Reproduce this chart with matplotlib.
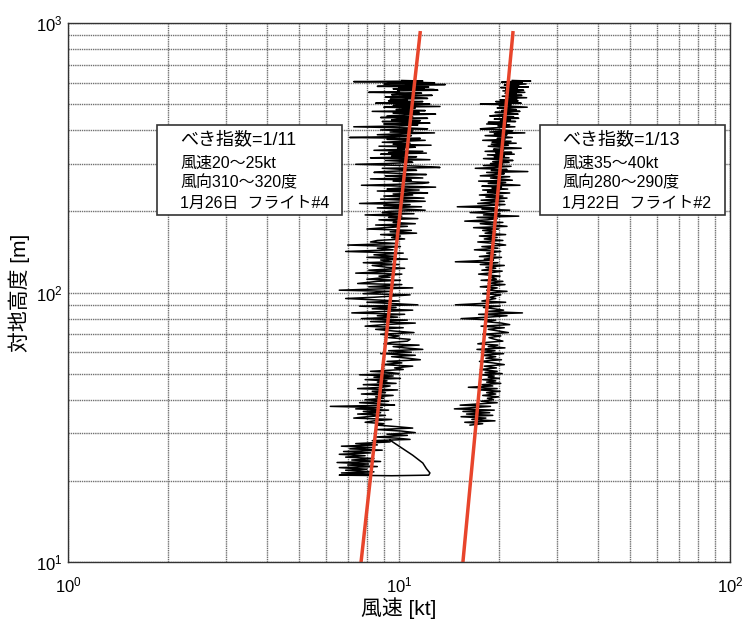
import matplotlib
matplotlib.use('Agg')
import matplotlib.pyplot as plt
from matplotlib.patches import Rectangle

plt.rcParams['font.family'] = ['Liberation Sans', 'Noto Sans CJK JP']

# sampled heights during descent [m], shared by both flights down to ~32 m
height = [
    612, 609, 606, 603, 600, 597, 594, 591, 588, 585, 582, 579, 576, 573, 570,
    567, 563, 560, 556, 553, 549, 546, 542, 539, 535, 532, 528, 525, 521, 518,
    514, 511, 507, 504, 500, 497, 494, 490, 487, 484, 480, 477, 473, 470, 466,
    463, 459, 456, 452, 449, 446, 443, 440, 437, 434, 431, 428, 425,
    422, 419, 415, 412, 408, 405, 401, 398, 394, 391, 388, 385, 382, 379, 376,
    373, 370, 367, 364, 361, 358, 355, 352, 349, 346, 343, 340, 337, 334, 331,
    329, 326, 324, 321, 319, 316, 314, 311, 309, 306,
    304, 301, 299, 296, 294, 291, 289, 286, 284, 281, 279, 276, 274, 271, 269,
    266, 264, 261, 259, 256,
    254, 252, 250, 248, 246, 244, 242, 240, 238, 236, 234, 232, 230, 228, 226,
    224, 222, 220, 218, 216,
    214, 212, 210, 208, 206, 204, 202, 200, 198, 196, 194, 192, 190, 188, 186,
    184, 182, 180, 178, 176, 174, 172, 170, 168, 166, 164, 162, 160,
    158, 156, 154, 152, 150, 148, 146, 144, 142, 140, 138, 136, 135, 133, 132,
    130, 129, 127, 126, 124, 123, 121, 120, 118, 117, 115, 114, 112, 111, 110,
    108, 107, 105, 104, 102, 101, 99, 98, 96, 95, 93, 92, 90, 89, 88, 87, 86,
    85, 84, 83, 82, 81, 80, 79, 78, 77, 76, 75, 74, 73, 72, 71, 70, 69, 68, 67,
    66, 65.3, 64.5, 63.8, 63, 62.3, 61.5, 60.8, 60, 59.3, 58.5, 57.8, 57, 56.3,
    55.5, 54.8, 54, 53.3, 52.5, 51.8,
    51, 50.5, 50, 49.5, 49, 48.5, 48, 47.5, 47, 46.5, 46, 45.5, 45, 44.5, 44,
    43.5, 43, 42.5, 42, 41.5, 41, 40.5, 40, 39.5,
    39, 38.6, 38.2, 37.8, 37.4, 37, 36.6, 36.2, 35.8, 35.4, 35, 34.6, 34.2,
    33.8, 33.4, 33, 32.6, 32.2,
]

# flight #4 wind speed [kt]
left_speed = [
    10.2, 11.8, 7.3, 10.9, 12.8, 9.4, 9.0, 13.8, 11.2, 10.4, 8.6, 12.3, 10.0, 11.9, 9.6,
    12.7, 13.1, 9.9, 10.0, 8.1, 11.7, 10.3, 9.5, 12.6, 10.8, 9.1, 11.4, 12.2, 9.4, 10.6,
    9.3, 11.8, 10.2, 8.5, 12.4, 10.1, 9.6, 13.3, 9.0, 11.2, 10.5, 9.8, 12.0, 8.3, 11.5,
    9.6, 12.9, 10.4, 9.2, 11.0, 8.8, 12.2, 10.0, 9.5, 11.6, 8.9, 10.7, 12.4,
    9.0, 11.4, 10.2, 7.3, 10.6, 12.2, 8.8, 11.0, 9.4, 12.8, 10.1, 8.6, 10.9, 9.7, 7.1,
    11.6, 9.2, 12.0, 10.3, 8.9, 10.8, 9.6, 12.5, 8.7, 11.2, 9.9, 10.4, 8.4, 11.8, 9.3,
    12.1, 8.8, 10.6, 9.5, 11.3, 8.2, 10.0, 12.4, 9.1, 10.7,
    11.0, 9.2, 7.4, 10.2, 11.6, 13.3, 8.9, 10.4, 11.3, 9.0, 8.4, 10.6, 12.1, 9.1, 10.0,
    11.8, 8.2, 10.9, 9.6, 12.3,
    11.8, 9.8, 7.7, 10.5, 12.9, 10.0, 9.2, 11.5, 8.6, 10.8, 12.2, 9.6, 11.0, 9.0, 10.4,
    11.9, 8.8, 10.2, 12.0, 9.4,
    7.6, 10.8, 9.0, 11.7, 8.6, 10.4, 12.0, 9.3, 8.9, 11.1, 7.9, 10.2, 9.3, 11.4, 8.7,
    10.0, 9.6, 11.2, 8.5, 10.6, 9.1, 8.0, 10.9, 9.4, 11.3, 8.8, 10.1, 9.5,
    10.4, 8.6, 8.2, 9.9, 7.0, 10.1, 8.6, 9.6, 6.9, 10.3, 8.4, 9.8, 8.0, 10.6, 8.8,
    9.5, 7.8, 10.0, 8.3, 9.2, 10.4, 8.1, 9.7, 7.4, 10.2, 8.7, 9.4, 8.0, 10.1, 8.6,
    7.5, 10.2, 8.1, 11.0, 6.6, 9.4, 7.8, 10.8, 8.4, 6.9, 10.0, 8.0, 11.4, 7.6, 9.8, 8.3, 11.0,
    8.9, 7.2, 10.4, 8.6, 9.9, 7.7, 10.6, 8.2, 11.2, 9.0, 7.9, 10.3, 8.5, 9.6, 11.1, 8.8, 10.0, 9.3, 10.8,
    10.6, 9.5, 9.0, 11.5, 9.6, 10.4, 11.8, 9.3, 10.9, 8.8, 11.2, 9.5, 10.7, 11.6,
    9.2, 10.2, 8.9, 11.0, 9.7, 10.3,
    8.2, 9.4, 10.0, 7.6, 9.6, 8.4, 10.1, 7.9, 9.2, 8.6, 9.8, 7.8, 9.4, 8.9, 7.5,
    9.9, 8.3, 9.1, 7.7, 9.6, 8.5, 9.0, 7.9, 9.3,
    7.6, 8.8, 9.7, 6.2, 8.9, 7.4, 9.3, 7.8, 8.8, 7.5, 9.1, 8.0, 7.3,
    9.5, 8.4, 7.9, 9.0, 8.6,
]

# flight #4 continues below 32 m, ending with a loop near 21 m
left_tail_height = [
    31.8, 31.4, 31, 30.6, 30.2, 29.8, 29.5, 29.1, 28.8, 28.5, 28.2, 27.9,
    27.5, 27.2, 26.9, 26.6, 26.3, 26, 25.7, 25.4, 25.1, 24.8, 24.5, 24.2,
    23.9, 23.6, 23.4, 23.1, 22.9, 22.6, 22.4, 22.1, 21.9, 21.6, 21.4, 21.2,
    21.0, 20.9, 21.0, 21.4, 22.2, 23.3, 24.9, 26.7, 28.3,
]
left_tail_speed = [
    9.8, 11.0, 8.6, 10.2, 11.2, 9.2, 10.6, 8.5, 9.9, 10.8, 8.3, 9.4,
    7.4, 8.6, 6.7, 8.3, 7.1, 8.9, 6.8, 8.2, 6.6, 7.9, 6.9, 8.4,
    7.2, 8.8, 6.5, 8.1, 7.0, 8.6, 6.6, 8.0, 6.9, 8.4, 6.7, 8.2,
    6.6, 9.5, 12.3, 12.4, 12.1, 11.8, 11.0, 10.1, 9.4,
]

# flight #2 wind speed [kt]
right_speed = [
    22.0, 25.0, 21.4, 20.4, 23.6, 21.2, 24.2, 22.3, 20.8, 23.0, 21.6, 24.6, 20.3, 22.8, 21.7,
    21.0, 23.8, 20.6, 22.4, 24.0, 20.9, 22.6, 21.3, 23.5, 20.5, 22.1, 24.3, 21.0, 22.7, 20.2,
    22.9, 19.6, 21.5, 23.4, 17.6, 21.8, 20.1, 22.6, 24.4, 19.8, 21.2, 22.6, 20.4, 23.2, 19.5,
    21.4, 22.9, 20.0, 18.8, 22.2, 20.6, 23.0, 19.4, 21.7, 20.3, 22.5, 18.6, 21.1,
    18.4, 21.6, 19.9, 22.4, 19.2, 17.6, 20.6, 22.0, 18.8, 24.0, 19.4, 21.2, 18.2, 20.5, 22.0,
    19.8, 20.9, 17.9, 21.8, 19.1, 22.6, 19.0, 21.4, 18.6, 20.3, 23.4, 19.3, 20.7, 18.2, 21.9,
    19.6, 22.3, 18.5, 20.8, 19.4, 21.5, 18.0, 20.2, 22.1, 19.2,
    21.5, 18.9, 20.6, 18.0, 21.8, 19.4, 17.0, 21.2, 19.0, 24.5, 18.4, 20.8, 19.6, 17.6, 21.6,
    18.9, 20.2, 22.0, 17.4, 21.0,
    18.6, 20.7, 23.2, 17.8, 20.4, 19.1, 21.3, 17.9, 20.0, 18.5, 21.6, 19.2, 17.5, 20.6, 18.3,
    21.2, 19.5, 17.7, 20.8, 18.8,
    17.3, 20.9, 18.6, 15.0, 19.6, 17.8, 21.6, 18.4, 16.4, 20.2, 18.0, 23.0, 17.2, 19.8, 18.5,
    15.8, 20.6, 17.6, 19.4, 21.2, 16.8, 20.0, 17.9, 19.6, 18.2, 21.0, 17.5, 19.8,
    18.1, 20.6, 17.3, 19.5, 21.0, 17.8, 19.9, 16.9, 20.3, 18.4, 19.6, 17.5, 20.4, 18.1, 19.3,
    14.8, 19.9, 17.6, 20.8, 18.3, 19.6, 17.8, 20.5, 18.6, 17.4, 20.2, 18.9, 19.7, 17.7, 20.6,
    18.6, 20.9, 17.6, 19.8, 18.4, 21.2, 17.9, 20.3, 18.8, 19.6, 17.8, 21.0, 14.8, 20.2, 18.0, 19.4, 20.7,
    18.3, 23.6, 17.4, 21.2, 18.6, 15.4, 19.6, 18.2, 20.4, 21.6, 17.7, 20.8, 18.6, 19.9, 21.4, 17.9, 20.3, 18.7, 19.5,
    20.6, 18.4, 17.3, 19.9, 18.6, 20.9, 17.2, 19.5, 18.0, 20.7, 17.8, 19.6, 18.3, 20.4,
    17.5, 19.2, 20.8, 18.1, 19.7, 17.6,
    19.8, 18.2, 20.5, 17.7, 19.4, 18.6, 20.1, 17.9, 19.6, 18.4, 20.3, 17.8, 19.2, 16.2, 19.8,
    17.6, 20.2, 18.4, 19.6, 17.9, 20.0, 18.5, 19.3, 17.7,
    19.8, 17.4, 15.3, 18.9, 16.8, 14.7, 19.4, 15.6, 18.8, 16.0, 19.2, 15.4, 18.3,
    16.6, 19.5, 15.8, 17.9, 16.4,
]

# power-law fits: speed at 10 m [kt] and exponent
fit_speed_10m = [7.68, 15.6]
fit_exponent = [1 / 11, 1 / 13]
fit_height = [10, 920]

box_lines = [
    ['べき指数=1/11', '風速20～25kt', '風向310～320度', '1月26日  フライト#4'],
    ['べき指数=1/13', '風速35～40kt', '風向280～290度', '1月22日  フライト#2'],
]

W, H = 745, 625
fig = plt.figure(figsize=(W / 100, H / 100), dpi=100)
ax = fig.add_axes([68 / W, 1 - 562 / H, 662 / W, 539 / H])
ax.set_xscale('log')
ax.set_yscale('log')
ax.set_xlim(1, 100)
ax.set_ylim(10, 1000)

ax.grid(True, which='both', color='#707070', linestyle=(0, (1, 0.6)), linewidth=1.0)
ax.set_axisbelow(True)

ax.plot(left_speed + left_tail_speed, height + left_tail_height, color='black', lw=1.1)
ax.plot(right_speed, height, color='black', lw=1.1)

for u10, p in zip(fit_speed_10m, fit_exponent):
    speeds = [u10 * (z / 10) ** p for z in fit_height]
    ax.plot(speeds, fit_height, color='#e8452c', lw=2.5)

ax.tick_params(which='both', length=0, labelsize=12)
ax.tick_params(axis='x', pad=10)
ax.tick_params(axis='y', pad=4)
for s in ax.spines.values():
    s.set_color('#333333')
    s.set_linewidth(1.0)

ax.set_xlabel('風速 [kt]', fontsize=15)
ax.set_ylabel('対地高度 [m]', fontsize=15)
ax.xaxis.set_label_coords(0.5, -0.065)
ax.yaxis.set_label_coords(-0.058, 0.5)

# annotation boxes
for (bx, tx), lines in zip([(157, 180), (540, 562)], box_lines):
    fig.patches.append(Rectangle((bx / W, 1 - 215 / H), 185 / W, 90 / H,
                                 transform=fig.transFigure, fc='white',
                                 ec='#333333', lw=1.2, zorder=5))
    for i, (t, yy) in enumerate(zip(lines, [140, 163, 183, 203])):
        fig.text(tx / W, 1 - yy / H, t, fontsize=13 if i == 0 else 11.5,
                 va='center', ha='left', zorder=6)

fig.savefig('out.png', dpi=100)
